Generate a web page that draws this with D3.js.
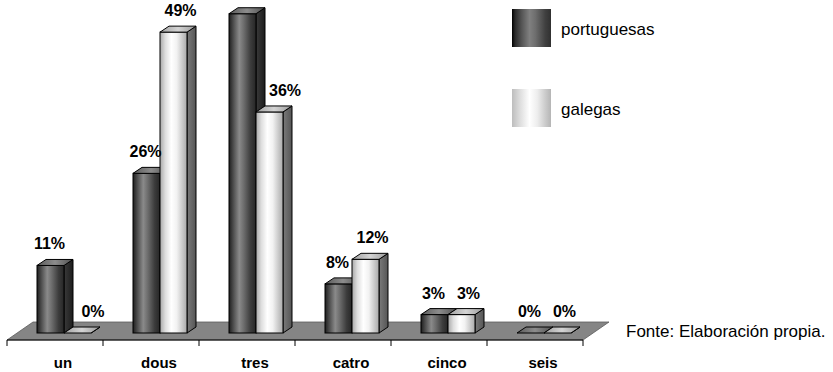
<!DOCTYPE html>
<html>
<head>
<meta charset="utf-8">
<script src="https://cdn.jsdelivr.net/npm/d3@7"></script>
<style>
  html, body { margin: 0; padding: 0; background: #fff; }
  svg { display: block; }
  text { font-family: "Liberation Sans", Arial, sans-serif; }
</style>
</head>
<body>
<svg id="chart" width="833" height="372"></svg>
<script>
// Data
const categories = ["un", "dous", "tres", "catro", "cinco", "seis"];
const seriesNames = ["portuguesas", "galegas"];
const portuguesas = [11, 26, 52, 8, 3, 0];
const galegas = [0, 49, 36, 12, 3, 0];
const sourceNote = "Fonte: Elaboración propia.";

const W = 833, H = 372;
const svg = d3.select("#chart");
const defs = svg.append("defs");

// 3D depth offset of the bars and of the floor
const dx = 9, dy = -6;
const floorDX = 26, floorDY = -18;
const baseY = 333;      // bar base (middle of the floor)
const axisY = 340;      // front edge of the floor / category axis

const x = d3.scaleBand().domain(categories).range([7, 583]).paddingInner(0).paddingOuter(0);
const xs = d3.scaleBand().domain(seriesNames).range([30, 84]);
const y = d3.scaleLinear().domain([0, 50]).range([baseY, baseY - 50 * 6.14]);

// Horizontal "cylinder" gradients
function grad(id, stops, x1 = "0%", x2 = "100%", y1 = "0%", y2 = "0%") {
  const g = defs.append("linearGradient").attr("id", id)
    .attr("x1", x1).attr("x2", x2).attr("y1", y1).attr("y2", y2);
  stops.forEach(([o, c]) => g.append("stop").attr("offset", o).attr("stop-color", c));
}
grad("pFront", [[0, "#1e1e1e"], [0.15, "#4a4a4a"], [0.38, "#8a8a8a"], [0.55, "#6c6c6c"], [0.8, "#3c3c3c"], [1, "#262626"]]);
grad("pSide", [[0, "#3a3a3a"], [1, "#1c1c1c"]]);
grad("pTop", [[0, "#5a5a5a"], [0.5, "#8c8c8c"], [1, "#505050"]]);
grad("gFront", [[0, "#a8a8a8"], [0.2, "#dedede"], [0.42, "#ffffff"], [0.62, "#f2f2f2"], [0.85, "#c6c6c6"], [1, "#aaaaaa"]]);
grad("gSide", [[0, "#7a7a7a"], [1, "#555555"]]);
grad("gTop", [[0, "#a0a0a0"], [0.5, "#d4d4d4"], [1, "#9a9a9a"]]);
grad("pLegend", [[0, "#000000"], [0.08, "#2a2a2a"], [0.25, "#555555"], [0.45, "#808080"], [0.6, "#6e6e6e"], [0.85, "#404040"], [1, "#303030"]]);
grad("gLegend", [[0, "#bdbdbd"], [0.2, "#dcdcdc"], [0.45, "#ffffff"], [0.65, "#ededed"], [0.85, "#cccccc"], [1, "#b5b5b5"]]);

// Floor
const fx0 = x.range()[0], fx1 = x.range()[1];
svg.append("path")
  .attr("d", `M${fx0},${axisY} L${fx1},${axisY} L${fx1 + floorDX},${axisY + floorDY} L${fx0 + floorDX},${axisY + floorDY} Z`)
  .attr("fill", "#858585")
  .attr("stroke", "#5a5a5a")
  .attr("stroke-width", 0.8);

// Category axis along the front edge of the floor
const axisG = svg.append("g").attr("transform", `translate(0,${axisY})`);
axisG.append("line").attr("x1", fx0).attr("x2", fx1).attr("stroke", "#000").attr("stroke-width", 1);
const tickPos = categories.map(c => x(c)).concat([fx1]);
axisG.selectAll(".tk").data(tickPos).join("line")
  .attr("class", "tk")
  .attr("x1", d => d).attr("x2", d => d).attr("y1", 0).attr("y2", 6)
  .attr("stroke", "#000").attr("stroke-width", 1);

// Category labels
svg.append("g").selectAll("text").data(categories).join("text")
  .attr("x", d => x(d) + x.bandwidth() / 2 + 8)
  .attr("y", 368)
  .attr("text-anchor", "middle")
  .attr("font-size", 15)
  .attr("font-weight", "bold")
  .attr("fill", "#000")
  .text(d => d);

// Bars
const rows = [];
categories.forEach((c, i) => {
  rows.push({ cat: c, s: "portuguesas", v: portuguesas[i], key: "p", other: galegas[i] });
  rows.push({ cat: c, s: "galegas", v: galegas[i], key: "g", other: portuguesas[i] });
});

const bars = svg.append("g");
rows.forEach(r => {
  const x0 = x(r.cat) + xs(r.s);
  const w = xs.bandwidth();
  const yt = y(r.v);
  const g = bars.append("g");
  // side face
  g.append("path")
    .attr("d", `M${x0 + w},${baseY} L${x0 + w + dx},${baseY + dy} L${x0 + w + dx},${yt + dy} L${x0 + w},${yt} Z`)
    .attr("fill", `url(#${r.key}Side)`).attr("stroke", "#000").attr("stroke-width", 1).attr("stroke-linejoin", "round");
  // front face
  if (baseY - yt > 0) {
    g.append("rect")
      .attr("x", x0).attr("y", yt).attr("width", w).attr("height", baseY - yt)
      .attr("fill", `url(#${r.key}Front)`).attr("stroke", "#000").attr("stroke-width", 1);
  }
  // top face
  g.append("path")
    .attr("d", `M${x0},${yt} L${x0 + w},${yt} L${x0 + w + dx},${yt + dy} L${x0 + dx},${yt + dy} Z`)
    .attr("fill", `url(#${r.key}Top)`).attr("stroke", "#000").attr("stroke-width", 1).attr("stroke-linejoin", "round");
});

// Value labels; a galegas label is pushed right when the taller neighbour bar would cover it.
// Labels that would fall above the top of the plot area are not drawn.
function labelX(d) {
  const x0 = x(d.cat) + xs(d.s);
  const c = x0 + xs.bandwidth() / 2;
  if (d.key === "p") return c - 1;
  let cx = c + 7;
  if (y(d.other) < y(d.v) + dy - 22) cx = Math.max(cx, x0 + dx + 20);
  return cx;
}
const labelY = d => y(d.v) + dy - 10;
svg.append("g").selectAll("text").data(rows.filter(d => labelY(d) > 14)).join("text")
  .attr("x", labelX)
  .attr("y", labelY)
  .attr("text-anchor", "middle")
  .attr("font-size", 16)
  .attr("font-weight", "bold")
  .attr("fill", "#000")
  .text(d => d.v + "%");

// Legend
const legend = svg.append("g");
const legendY = [9, 89];
seriesNames.forEach((s, i) => {
  legend.append("rect")
    .attr("x", 512).attr("y", legendY[i]).attr("width", 39).attr("height", 38)
    .attr("fill", i === 0 ? "url(#pLegend)" : "url(#gLegend)");
  legend.append("text")
    .attr("x", 561).attr("y", legendY[i] + 26)
    .attr("font-size", 17)
    .attr("fill", "#000")
    .text(s);
});

// Source note
svg.append("text")
  .attr("x", 626).attr("y", 337)
  .attr("font-size", 17)
  .attr("fill", "#000")
  .text(sourceNote);
</script>
</body>
</html>
